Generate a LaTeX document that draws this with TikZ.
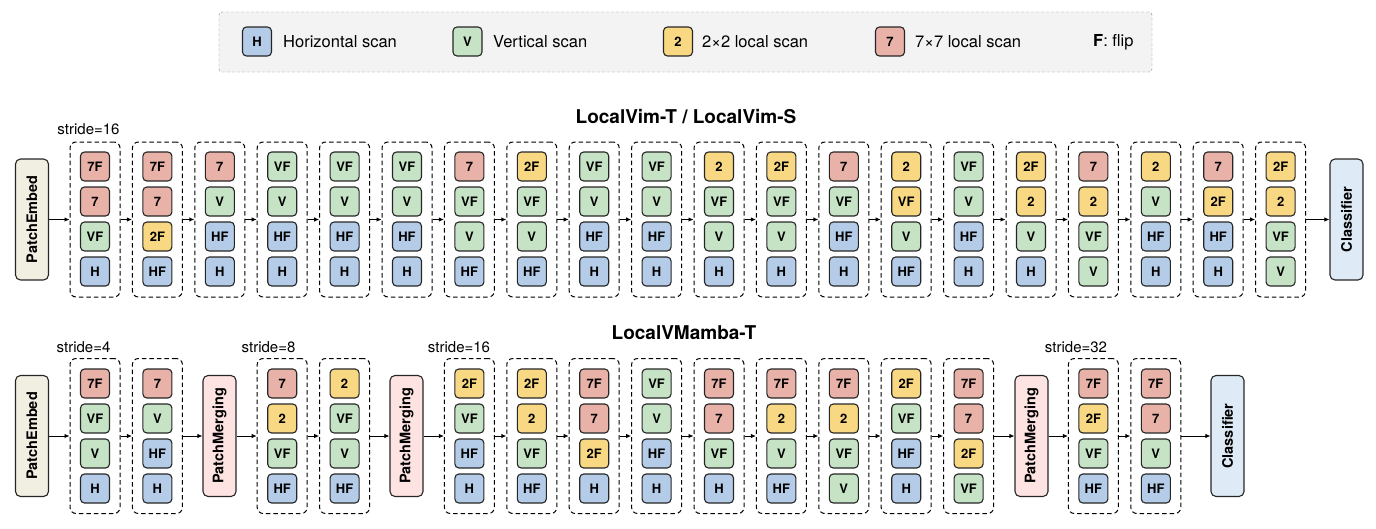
\documentclass[tikz,border=0pt]{standalone}
\usepackage{fontspec}
\setmainfont{TeX Gyre Heros}
\usetikzlibrary{arrows.meta}

\definecolor{cb}{RGB}{181,204,232}
\definecolor{cg}{RGB}{198,227,197}
\definecolor{cy}{RGB}{248,216,130}
\definecolor{cr}{RGB}{232,178,168}
\definecolor{embedfill}{RGB}{241,238,226}
\definecolor{mergefill}{RGB}{253,227,225}
\definecolor{clsfill}{RGB}{222,234,246}
\definecolor{legendfill}{RGB}{243,243,243}

\tikzset{
  scan/.style={draw=black!85, line width=1.1pt, rounded corners=4pt, minimum width=29pt, minimum height=29pt, inner sep=0pt, font=\bfseries\fontsize{13}{14}\selectfont},
  blk/.style={draw, line width=1pt, dash pattern=on 4.5pt off 3pt, rounded corners=6pt, minimum width=50pt, minimum height=155pt, inner sep=0pt},
  tall/.style={draw=black!85, line width=1.1pt, rounded corners=5pt, rotate=90, minimum width=121pt, minimum height=33pt, inner sep=0pt, font=\bfseries\fontsize{14.5}{15}\selectfont},
  arr/.style={-{Latex[length=5pt,width=4.5pt]}, line width=0.9pt},
  legtext/.style={anchor=west, inner sep=0pt, font=\fontsize{16.5}{18}\selectfont},
  title/.style={inner sep=0pt, font=\bfseries\fontsize{19}{21}\selectfont},
  stride/.style={inner sep=0pt, font=\fontsize{15}{16}\selectfont},
}

\begin{document}
\begin{tikzpicture}[x=1pt,y=1pt,yscale=-1,xscale=1]
  \useasboundingbox (0,0) rectangle (1376,528);

  % Legend
  \node[draw=black!45, dash pattern=on 3pt off 2pt, fill=legendfill, rounded corners=3pt, minimum width=933pt, minimum height=60pt] (legend) at (685.5,42) {};
  \node[scan, fill=cb] (legH) at (257,41.5) {H};
  \node[legtext] (legHtxt) at (283,42) {Horizontal scan};
  \node[scan, fill=cg] (legV) at (467.5,41.5) {V};
  \node[legtext] (legVtxt) at (493,42) {Vertical scan};
  \node[scan, fill=cy] (leg2) at (678,41.5) {2};
  \node[legtext] (leg2txt) at (702,42) {2×2 local scan};
  \node[scan, fill=cr] (leg7) at (890,41.5) {7};
  \node[legtext] (leg7txt) at (915,42) {7×7 local scan};
  \node[legtext] (legF) at (1093,42) {\textbf{F}: flip};

  % Top row: LocalVim-T / LocalVim-S
  \node[title] (titleT) at (686,117) {LocalVim-T / LocalVim-S};
  \node[stride] (strideT) at (88.5,129) {stride=16};
  \node[tall, fill=embedfill] (embedT) at (32,219.5) {PatchEmbed};
  \node[tall, fill=clsfill] (clsT) at (1346.5,219.5) {Classifier};
  \foreach \cells [count=\k from 0] in {
    {7F/r,7/r,VF/g,H/b}, {7F/r,7/r,2F/y,HF/b}, {7/r,V/g,HF/b,H/b}, {VF/g,V/g,HF/b,H/b},
    {VF/g,V/g,HF/b,H/b}, {VF/g,V/g,HF/b,H/b}, {7/r,VF/g,V/g,HF/b}, {2F/y,VF/g,V/g,HF/b},
    {VF/g,V/g,HF/b,H/b}, {VF/g,V/g,HF/b,H/b}, {2/y,VF/g,V/g,H/b}, {2F/y,VF/g,V/g,H/b},
    {7/r,VF/g,HF/b,H/b}, {2/y,VF/y,V/g,HF/b}, {VF/g,V/g,HF/b,H/b}, {2F/y,2/y,V/g,H/b},
    {7/r,2/y,VF/g,V/g}, {2/y,V/g,HF/b,H/b}, {7/r,2F/y,HF/b,H/b}, {2F/y,2/y,VF/g,V/g}}
  {
    \node[blk] (tb\k) at (95+62.4*\k,219.5) {};
    \foreach \lab/\col [count=\j from 0] in \cells
      \node[scan, fill=c\col] (tb\k-\j) at (95+62.4*\k,166.5+35*\j) {\lab};
  }
  \draw[arr] (embedT) -- (tb0);
  \foreach \k [evaluate=\k as \n using int(\k+1)] in {0,...,18}
    \draw[arr] (tb\k) -- (tb\n);
  \draw[arr] (tb19) -- (clsT);

  % Bottom row: LocalVMamba-T
  \node[title] (titleB) at (684,333) {LocalVMamba-T};
  \node[stride] (stride4) at (83.5,347) {stride=4};
  \node[stride] (stride8) at (268.5,347) {stride=8};
  \node[stride] (stride16) at (459,347) {stride=16};
  \node[stride] (stride32) at (1076,347) {stride=32};
  \node[tall, fill=embedfill] (embedB) at (32,436) {PatchEmbed};
  \node[tall, fill=mergefill] (pm1) at (219.5,436) {PatchMerging};
  \node[tall, fill=mergefill] (pm2) at (406.5,436) {PatchMerging};
  \node[tall, fill=mergefill] (pm3) at (1031.5,436) {PatchMerging};
  \node[tall, fill=clsfill] (clsB) at (1227.5,436) {Classifier};
  \foreach \s/\cells in {
    0/{7F/r,VF/g,V/g,H/b}, 1/{7/r,V/g,HF/b,H/b}, 3/{7/r,2/y,VF/g,HF/b}, 4/{2/y,VF/g,V/g,HF/b},
    6/{2F/y,VF/g,HF/b,H/b}, 7/{2F/y,2/y,VF/g,HF/b}, 8/{7F/r,7/r,2F/y,H/b}, 9/{VF/g,V/g,HF/b,H/b},
    10/{7F/r,7/r,VF/g,H/b}, 11/{7F/r,2/y,V/g,HF/b}, 12/{7F/r,2/y,VF/g,V/g}, 13/{2F/y,VF/g,HF/b,H/b},
    14/{7F/r,7/r,2F/y,VF/g}, 16/{7F/r,2F/y,VF/g,HF/b}, 17/{7F/r,7/r,V/g,HF/b}}
  {
    \node[blk] (bb\s) at (95+62.4*\s,436) {};
    \foreach \lab/\col [count=\j from 0] in \cells
      \node[scan, fill=c\col] (bb\s-\j) at (95+62.4*\s,383.5+35*\j) {\lab};
  }
  \foreach \a/\b in {embedB/bb0, bb0/bb1, bb1/pm1, pm1/bb3, bb3/bb4, bb4/pm2, pm2/bb6,
    bb6/bb7, bb7/bb8, bb8/bb9, bb9/bb10, bb10/bb11, bb11/bb12, bb12/bb13, bb13/bb14,
    bb14/pm3, pm3/bb16, bb16/bb17, bb17/clsB}
    \draw[arr] (\a) -- (\b);

\end{tikzpicture}
\end{document}
